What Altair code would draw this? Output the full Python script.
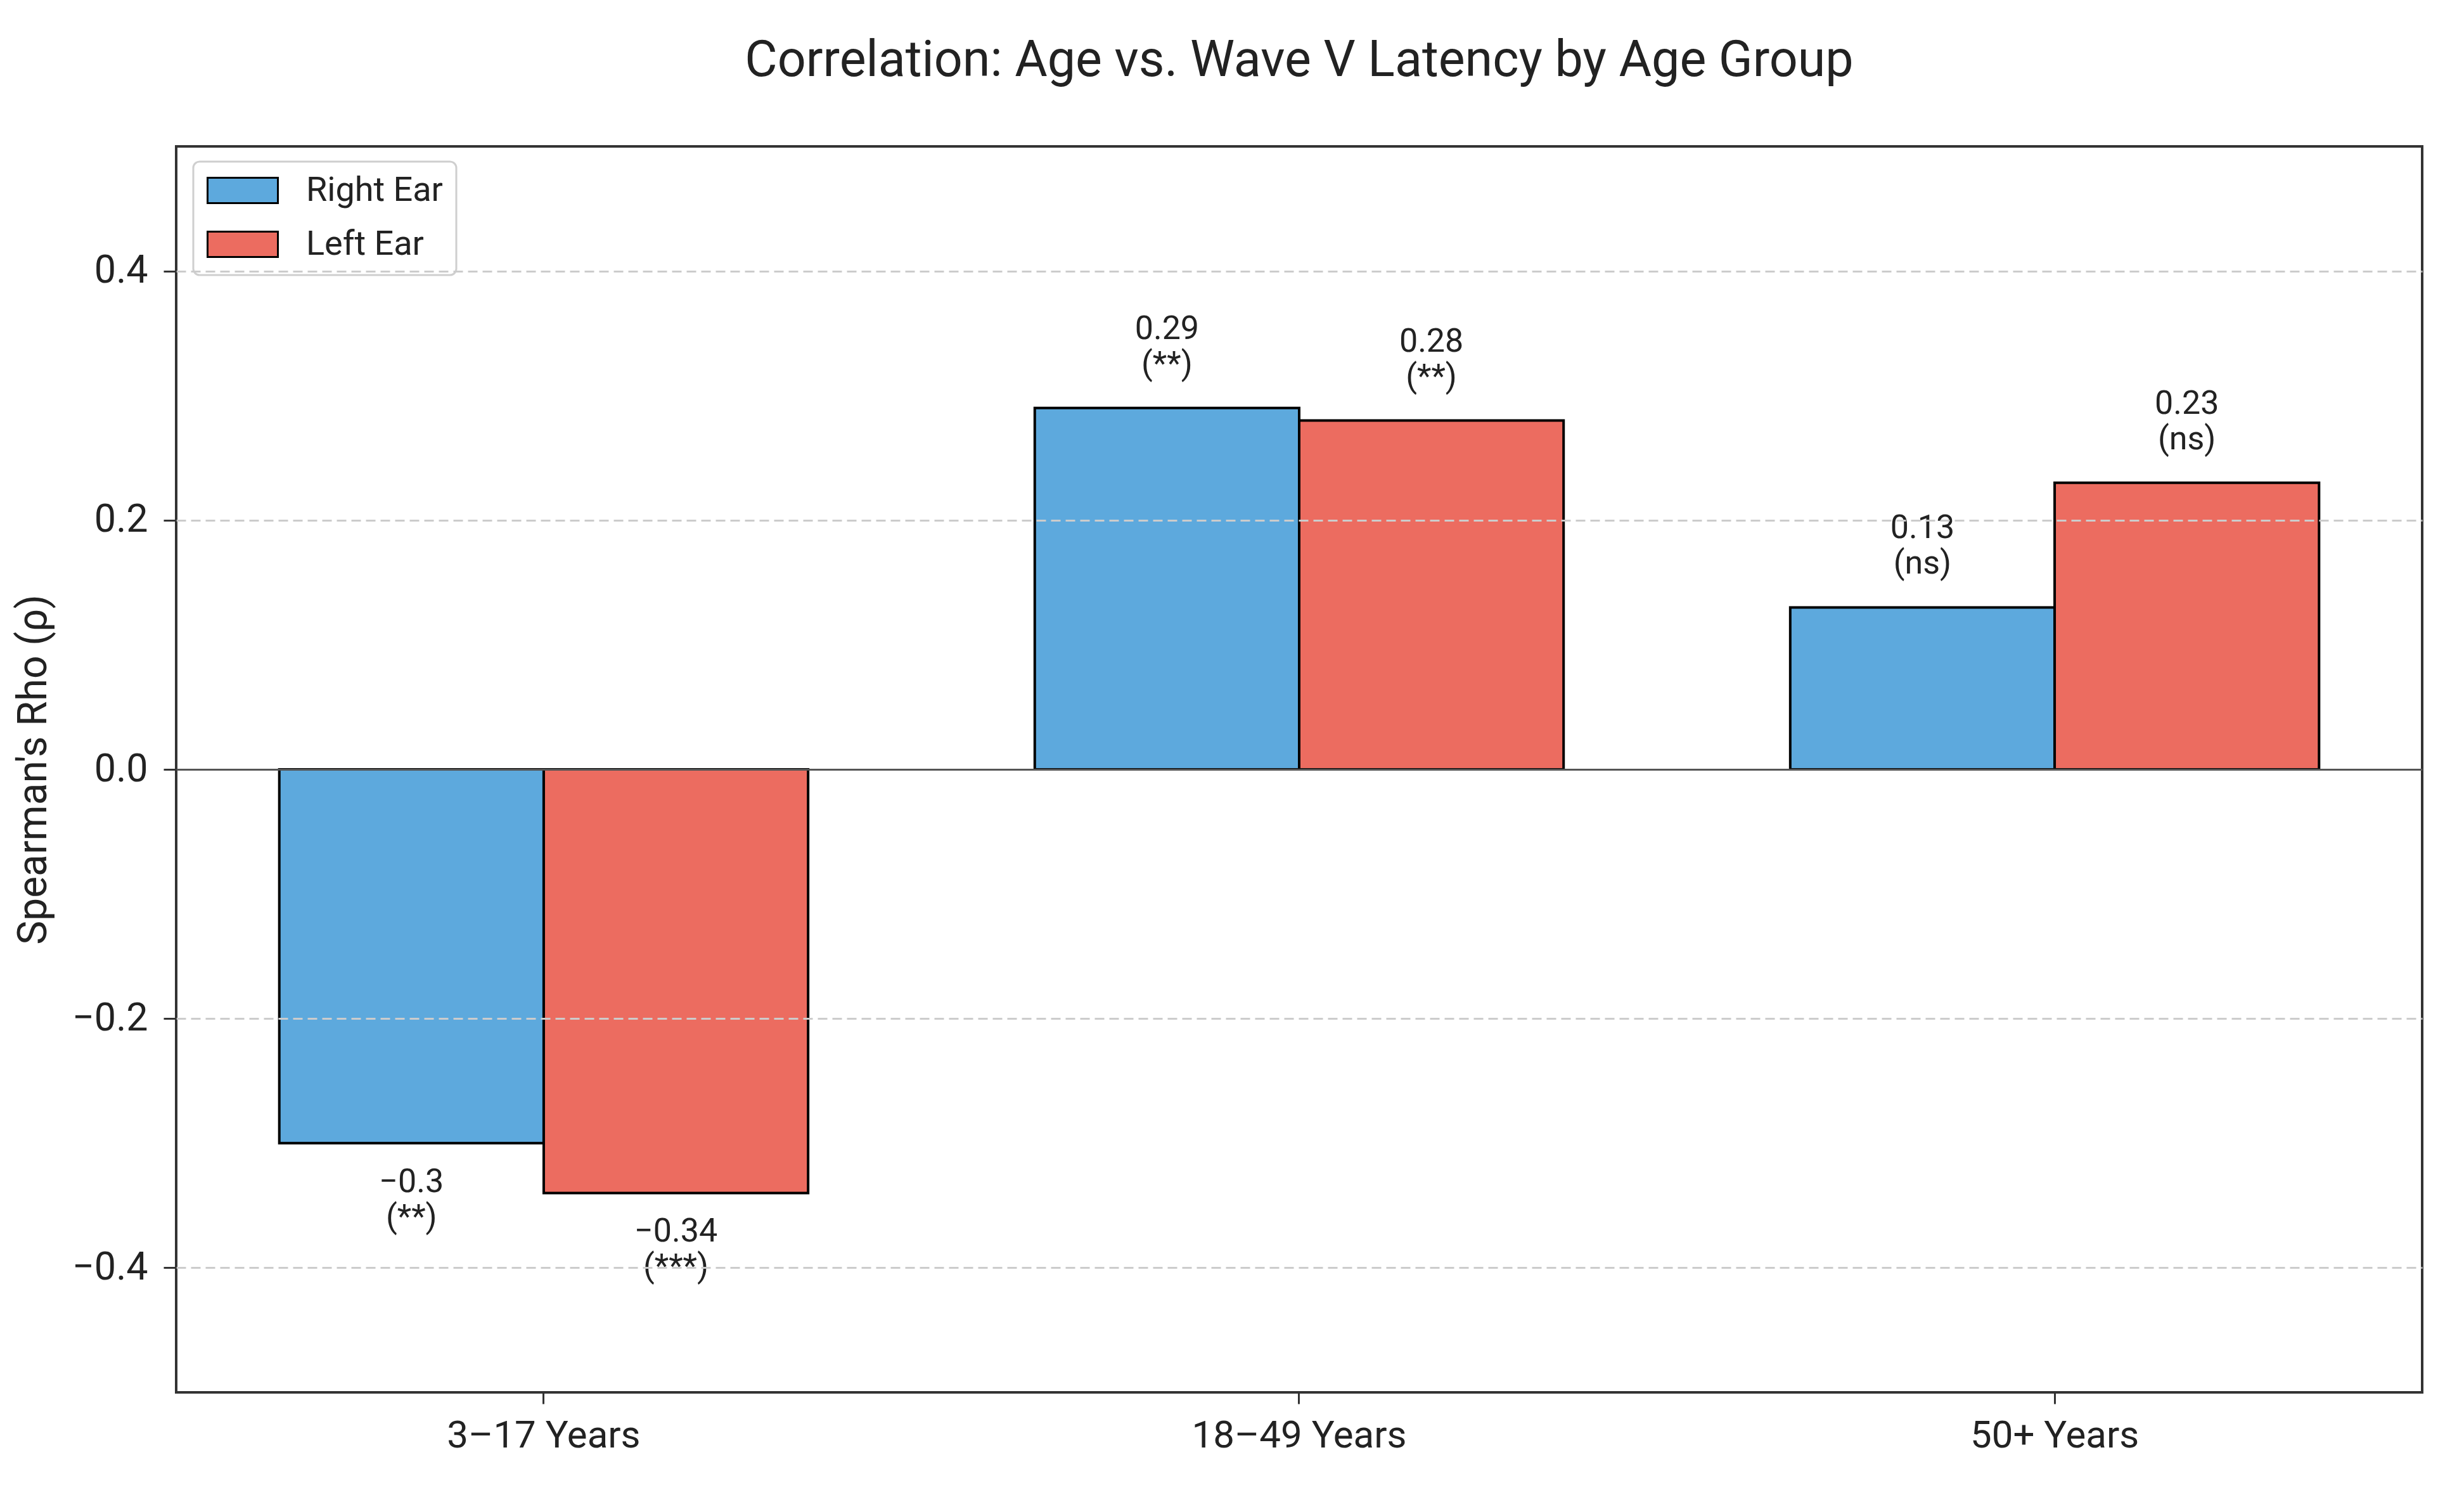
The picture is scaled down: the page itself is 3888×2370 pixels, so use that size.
import altair as alt
import pandas as pd

groups = ["3–17 Years", "18–49 Years", "50+ Years"]
ears = ["Right Ear", "Left Ear"]
right_rho = [-0.30, 0.29, 0.13]
left_rho = [-0.34, 0.28, 0.23]
right_sig = ["**", "**", "ns"]
left_sig = ["***", "**", "ns"]
colors = ["#5DA9DD", "#EC6C60"]
y_ticks = [-0.4, -0.2, 0.0, 0.2, 0.4]

rows = []
for ear, vals, sigs in [(ears[0], right_rho, right_sig), (ears[1], left_rho, left_sig)]:
    for g, v, s in zip(groups, vals, sigs):
        rows.append({
            "group": g,
            "ear": ear,
            "value": v,
            "label": f"{v:g}".replace("-", "\u2212") + f"\n({s})",
        })
df = pd.DataFrame(rows)

FONT = "Roboto"
TXT = "#222222"

x_enc = alt.X(
    "group:N",
    sort=groups,
    scale=alt.Scale(paddingInner=0.3, paddingOuter=0.1365),
    axis=alt.Axis(title=None, labelAngle=0, grid=False, domain=False,
                  tickSize=18, labelPadding=21, labelFontSize=60, labelLimit=0),
)
xo_enc = alt.XOffset("ear:N", sort=ears,
                     scale=alt.Scale(domain=ears, paddingInner=0, paddingOuter=0))
y_enc = alt.Y(
    "value:Q",
    scale=alt.Scale(domain=[-0.5, 0.5], nice=False, zero=False),
    axis=alt.Axis(
        values=y_ticks,
        format=".1f",
        title="Spearman's Rho (\u03c1)",
        domain=False,
        tickSize=20,
        labelPadding=25,
        labelFontSize=61,
        labelLimit=0,
        titleFontSize=64,
        titleX=-225,
        titleY=983,
        titleAlign="center",
        titleBaseline="middle",
        titleAngle=-90,
        titleLimit=0,
        zindex=1,
        grid=True,
        gridColor={"condition": {"test": "datum.value === 0", "value": "#555555"}, "value": "#cccccc"},
        gridDash={"condition": {"test": "datum.value === 0", "value": []}, "value": [15, 8]},
        gridWidth=3,
    ),
)

base = alt.Chart(df).encode(x=x_enc, xOffset=xo_enc, y=y_enc)

bars = base.mark_bar(stroke="black", strokeWidth=4, opacity=1).encode(
    y2=alt.datum(0),
    color=alt.Color(
        "ear:N",
        sort=ears,
        scale=alt.Scale(domain=ears, range=colors),
        legend=alt.Legend(
            title=None,
            orient="none",
            legendX=27,
            legendY=24,
            symbolType="M-1,-0.36L1,-0.36L1,0.36L-1,0.36Z",
            symbolSize=12321,
            symbolStrokeColor="black",
            symbolStrokeWidth=3,
            symbolOpacity=1,
            labelFont=FONT,
            labelFontSize=54,
            labelColor=TXT,
            labelOffset=43,
            labelLimit=0,
            clipHeight=49,
            rowPadding=30,
            padding=21,
            fillColor="white",
            strokeColor="#cfcfcf",
            cornerRadius=10,
        ),
    ),
)

pos_labels = base.transform_filter("datum.value >= 0").mark_text(
    baseline="bottom", dy=-98, lineBreak="\n", fontSize=52, lineHeight=56,
    color=TXT, font=FONT,
).encode(text="label:N")

neg_labels = base.transform_filter("datum.value < 0").mark_text(
    baseline="top", dy=36, lineBreak="\n", fontSize=52, lineHeight=56,
    color=TXT, font=FONT,
).encode(text="label:N")

chart = alt.layer(bars, pos_labels, neg_labels).properties(
    width=3544,
    height=1966,
    autosize=alt.AutoSizeParams(type="none"),
    padding={"left": 270, "top": 223, "right": 58, "bottom": 165},
    title=alt.TitleParams(
        "Correlation: Age vs. Wave V Latency by Age Group",
        fontSize=79, font=FONT, fontWeight="normal", color=TXT,
        anchor="middle", baseline="alphabetic", offset=32, limit=0,
    ),
).configure(font=FONT).configure_view(
    stroke="#333333", strokeWidth=4
).configure_axis(
    labelFont=FONT, titleFont=FONT, labelColor=TXT, titleColor=TXT,
    titleFontWeight="normal", tickColor="#333333", tickWidth=3,
).configure_legend(
    strokeWidth=3,
)

chart.save("out.html", embed_options={"renderer": "svg", "actions": False})
